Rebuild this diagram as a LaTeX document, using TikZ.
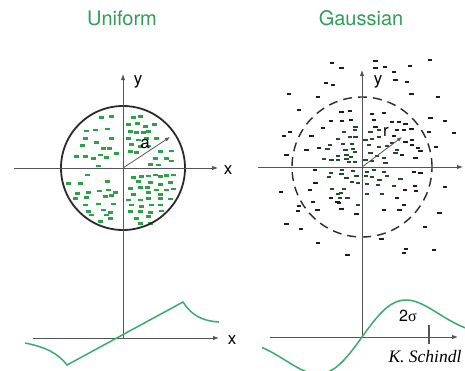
\documentclass[tikz,border=0pt]{standalone}
\usepackage{fontspec}
\setmainfont{TeX Gyre Heros}
\newfontfamily\timesf{Liberation Serif}
\usetikzlibrary{arrows.meta}
\definecolor{titlegreen}{HTML}{2E9E5B}
\definecolor{dotgreen}{HTML}{2DA04A}
\definecolor{curvegreen}{HTML}{3AAA6E}
\definecolor{axisgray}{HTML}{555555}
\definecolor{darkdot}{HTML}{1A1E1C}
\definecolor{centerdot}{HTML}{1E4E2C}
\definecolor{rimgray}{HTML}{2A2A2A}
\newcommand\udots[3]{\foreach \a/\b in {#3}{%
  \fill[dotgreen] ({#1+\a/3-2.5},{#2+\b/3-1.2}) rectangle ++(5,2.4);}}
\newcommand\gdots[3]{\foreach \a/\b in {#3}{%
  \pgfmathsetmacro\gx{#1+\a/3}\pgfmathsetmacro\gy{#2+\b/3}%
  \pgfmathsetmacro\inn{((\gx-362)*(\gx-362)+(\gy-167)*(\gy-167))<1700 ? 1 : 0}%
  \ifdim\inn pt>0.5pt\def\dc{centerdot}\else\def\dc{darkdot}\fi
  \fill[\dc] (\gx-2,\gy-1.1) rectangle ++(4.2,2.2);}}
\begin{document}
\begin{tikzpicture}[x=1pt,y=-1pt,
  axis/.style={draw=axisgray,line width=0.9pt},
  axisarrow/.style={axis,-{Latex[length=6pt,width=4.5pt]}},
  radarrow/.style={draw=axisgray,line width=0.8pt,-{Latex[length=5pt,width=4pt]}},
  lbl/.style={font=\fontsize{17}{17}\selectfont,anchor=base,inner sep=0pt},
  ttl/.style={font=\fontsize{20}{20}\selectfont,text=titlegreen,anchor=base,inner sep=0pt},
  wave/.style={draw=curvegreen,line width=1.5pt}
]
\useasboundingbox (0,0) rectangle (465,370);

% ---------------- Uniform ----------------
\node[ttl] (tU) at (122,25) {Uniform};
\coordinate (LO) at (123,168);
\coordinate (LyTop) at (123,74);
\coordinate (LyBot) at (123,338);
\coordinate (LxL) at (14,168);
\coordinate (LxR) at (218,168);
\coordinate (LaEnd) at (170,137);

\udots{60}{105}{125/37,153/35,80/78,105/75,143/72,75/100,110/112,155/100,68/122,130/130,148/130,
  48/155,75/155,122/150,168/145,100/160,140/158,115/183,
  220/38,240/35,205/58,233/55,255/65,283/58,210/80,228/82,250/82,265/80,
  205/100,235/105,260/100,290/100,215/118,240/125,265/123,212/140,230/143,300/140,335/138,
  285/160,320/160,270/178,295/180,335/168,
  82/210,25/235,60/235,142/230,52/265,85/262,118/258,145/255,165/262,45/280,80/278,135/275,155/272,
  115/297,160/297,75/300,85/320,130/315,150/322,95/330,140/330,120/350,150/340,
  220/218,245/215,265/213,285/210,300/215,320/212,340/210,235/230,270/232,300/238,330/232,
  210/250,240/248,262/248,290/255,320/255,340/252,220/268,265/262,300/268,
  205/285,240/285,265/280,300/280,330/282,215/300,245/305,275/300,300/300,
  210/320,240/320,270/322,305/318,230/340,265/335,240/355,270/355}
\draw[rimgray,line width=1.8pt] (LO) circle[radius=62pt];
\draw[axis] (LyBot) -- (LO);
\draw[axisarrow] (LO) -- (LyTop);
\draw[axisarrow] (LxL) -- (LxR);
\draw[radarrow] (LO) -- (LaEnd);
\node[lbl] (Lx) at (228,174) {x};
\node[lbl] (Ly) at (138,84) {y};
\node[lbl] (La) at (145,148) {a};

% lower left profile
\coordinate (BLo) at (123,338);
\coordinate (BLxL) at (33,338);
\coordinate (BLxR) at (219,338);
\draw[axisarrow] (BLxL) -- (BLxR);
\node[lbl] (BLx) at (232,344) {x};
\coordinate (P0) at (25,343);
\coordinate (P1) at (67,365);
\coordinate (P2) at (183,302);
\coordinate (P3) at (219,322);
\draw[wave,line join=miter] (P0) .. controls (45,347) and (58,353) .. (P1) -- (P2)
   .. controls (192,316) and (203,321) .. (P3);

% ---------------- Gaussian ----------------
\node[ttl] (tG) at (361,25) {Gaussian};
\coordinate (RO) at (362,167);
\coordinate (RyTop) at (362,70);
\coordinate (RyBot) at (362,338);
\coordinate (RxL) at (258,167);
\coordinate (RxR) at (463,167);
\coordinate (RrEnd) at (402,137);

\gdots{258}{50}{222/38,250/55,203/98,225/105,93/132,180/142,122/180,250/187,275/183,218/213,252/213,278/210,
  292/230,195/235,258/245,290/240,78/258,95/245,160/258,240/268,275/262,292/262,215/285,255/283,282/282,
  182/295,208/298,145/300,262/300,285/298,85/315,240/318,265/315,290/305,197/327,220/330,240/330,
  265/327,278/322,290/335,272/335}
\gdots{362}{50}{40/32,40/55,68/52,143/47,203/30,95/67,100/90,135/97,148/132,228/140,205/205,248/213,275/250,
  30/192,65/188,35/210,90/215,110/217,130/222,148/238,40/230,25/247,50/240,105/240,125/240,95/258,
  150/270,200/245,222/290,10/270,30/268,50/262,90/278,130/275,150/285,168/293,175/302,20/285,50/290,
  75/288,105/300,120/315,160/325,25/310,45/318,65/325,10/330,30/332,70/340,100/310}
\gdots{258}{167}{170/10,218/18,252/8,285/12,212/30,250/22,265/33,295/28,172/48,282/45,300/48,68/75,155/68,
  222/65,258/65,240/80,248/78,218/93,245/92,268/92,238/105,242/108,165/105,122/118,300/115,120/132,
  178/130,250/125,295/140,85/172,128/187,180/228,268/265}
\gdots{362}{167}{15/15,35/8,65/15,155/15,175/17,12/28,30/30,52/38,75/28,15/52,48/55,95/57,115/35,128/70,
  158/57,162/72,248/60,15/82,60/82,105/93,125/115,112/128,65/130,232/138,188/180,58/215,132/245,
  125/258,215/248}
\draw[rimgray,line width=1.4pt,dash pattern=on 9pt off 6pt] (RO) circle[radius=70pt];
\draw[axis] (RyBot) -- (RO);
\draw[axisarrow] (RO) -- (RyTop);
\draw[axisarrow] (RxL) -- (RxR);
\draw[radarrow] (RO) -- (RrEnd);
\node[lbl] (Ry) at (378,84) {y};
\node[lbl] (Rr) at (386,136) {r};

% lower right profile
\coordinate (BRo) at (362,337);
\coordinate (BRxL) at (270,337);
\coordinate (BRxR) at (458,337);
\coordinate (TkT) at (429,325);
\coordinate (TkB) at (429,344);
\draw[axisarrow] (BRxL) -- (BRxR);
\draw[axis,line width=1.1pt] (TkT) -- (TkB);
\begin{scope}
\clip (255,280) rectangle (465,370);
\draw[wave] plot[domain=-100:104,samples=120,smooth]
  ({362+\x},{337-37*(\x/44)*exp(0.5-(\x*\x)/(2*44*44))});
\end{scope}
\node[font=\fontsize{16}{16}\selectfont,anchor=base,inner sep=0pt] (sig) at (408,321) {2{\timesf σ}};
\node[font=\timesf\itshape\fontsize{17.5}{17.5}\selectfont,anchor=base,inner sep=0pt] (auth) at (425,362) {K. Schindl};
\end{tikzpicture}
\end{document}
